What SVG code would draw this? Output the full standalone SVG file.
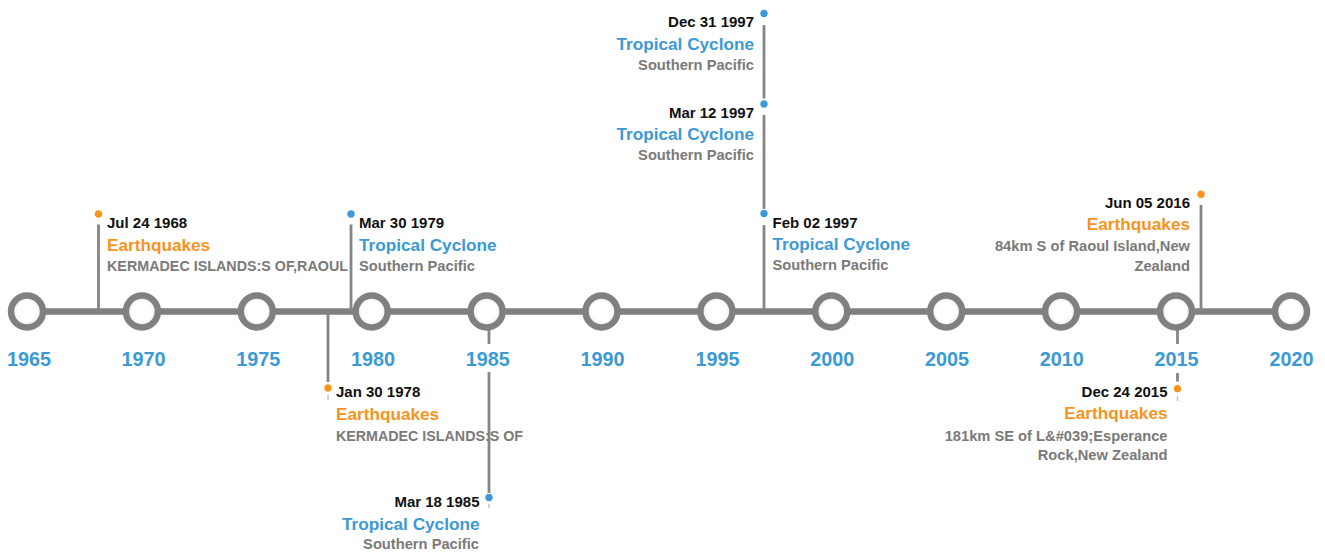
<svg xmlns="http://www.w3.org/2000/svg" width="1325" height="554" viewBox="0 0 1325 554">
<defs>
<radialGradient id="cg" cx="50%" cy="50%" r="50%">
<stop offset="0.6" stop-color="#ffffff"/>
<stop offset="1" stop-color="#e4e4e4"/>
</radialGradient>
<filter id="soft" x="-20%" y="-20%" width="140%" height="140%"><feGaussianBlur stdDeviation="0.6"/></filter>
</defs>
<style>
text{font-family:"Liberation Sans",Arial,Helvetica,sans-serif;font-weight:bold}
.axis{stroke:#808080;stroke-width:6.5;fill:none}
.ring{fill:url(#cg);stroke:#808080;stroke-width:6.5;filter:url(#soft)}
.yr{font-size:19.8px;fill:#3b9ad6;text-anchor:middle}
.stem{stroke:#858585;stroke-width:2.8;fill:none}
.stub{stroke:#c4c4c4;stroke-width:1.5;fill:none}
.date{font-size:15px;fill:#111111}
.teq{font-size:17.2px;fill:#f7941e}
.ttc{font-size:17.2px;fill:#3b9ad6}
.desc{font-size:14.7px;fill:#7a7a7a}
.end{text-anchor:end}
.deq{fill:#f7941e;stroke:#ffffff;stroke-width:1}
.dtc{fill:#3b9ad6;stroke:#ffffff;stroke-width:1}
</style>

<line class="axis" x1="27" y1="311.5" x2="1291" y2="311.5"/>

<g id="connectors">
<line class="stem" x1="98.5" y1="224.5" x2="98.5" y2="311"/>
<line class="stem" x1="351" y1="224.5" x2="351" y2="311"/>
<line class="stem" x1="328" y1="311" x2="328" y2="382"/>
<line class="stub" x1="328" y1="395" x2="328" y2="400"/>
<line class="stem" x1="489" y1="311" x2="489" y2="344"/>
<line class="stem" x1="489" y1="372" x2="489" y2="493"/>
<line class="stub" x1="489" y1="504" x2="489" y2="508"/>
<line class="stem" x1="764" y1="225" x2="764" y2="311"/>
<line class="stem" x1="764" y1="115" x2="764" y2="209"/>
<line class="stem" x1="764" y1="25" x2="764" y2="98.5"/>
<line class="stem" x1="1201" y1="205" x2="1201" y2="311"/>
<line class="stem" x1="1177.5" y1="311" x2="1177.5" y2="344"/>
<line class="stem" x1="1177.5" y1="373" x2="1177.5" y2="381.5"/>
<line class="stub" x1="1177.5" y1="396" x2="1177.5" y2="401"/>
</g>

<g id="y1965"><circle class="ring" cx="27" cy="311.5" r="16"/><text class="yr" x="29" y="366">1965</text></g>
<g id="y1970"><circle class="ring" cx="141.9" cy="311.5" r="16"/><text class="yr" x="143.4" y="366">1970</text></g>
<g id="y1975"><circle class="ring" cx="256.8" cy="311.5" r="16"/><text class="yr" x="258.3" y="366">1975</text></g>
<g id="y1980"><circle class="ring" cx="371.7" cy="311.5" r="16"/><text class="yr" x="373" y="366">1980</text></g>
<g id="y1985"><circle class="ring" cx="486.6" cy="311.5" r="16"/><text class="yr" x="487.8" y="366">1985</text></g>
<g id="y1990"><circle class="ring" cx="601.5" cy="311.5" r="16"/><text class="yr" x="602.6" y="366">1990</text></g>
<g id="y1995"><circle class="ring" cx="716.4" cy="311.5" r="16"/><text class="yr" x="717.4" y="366">1995</text></g>
<g id="y2000"><circle class="ring" cx="831.3" cy="311.5" r="16"/><text class="yr" x="832.2" y="366">2000</text></g>
<g id="y2005"><circle class="ring" cx="946.2" cy="311.5" r="16"/><text class="yr" x="947" y="366">2005</text></g>
<g id="y2010"><circle class="ring" cx="1061.1" cy="311.5" r="16"/><text class="yr" x="1061.8" y="366">2010</text></g>
<g id="y2015"><circle class="ring" cx="1176" cy="311.5" r="16"/><text class="yr" x="1176.6" y="366">2015</text></g>
<g id="y2020"><circle class="ring" cx="1291" cy="311.5" r="16"/><text class="yr" x="1291.4" y="366">2020</text></g>

<g id="ev-1968-07-24">
<circle class="deq" cx="98.5" cy="214" r="4.2"/>
<text class="date" x="107" y="228">Jul 24 1968</text>
<text class="teq" x="107" y="250.5">Earthquakes</text>
<text class="desc" x="107" y="270.5" textLength="241" lengthAdjust="spacingAndGlyphs">KERMADEC ISLANDS:S OF,RAOUL</text>
</g>

<g id="ev-1979-03-30">
<circle class="dtc" cx="351" cy="214" r="4.2"/>
<text class="date" x="359" y="228">Mar 30 1979</text>
<text class="ttc" x="359" y="250.5">Tropical Cyclone</text>
<text class="desc" x="359" y="270.5">Southern Pacific</text>
</g>

<g id="ev-1978-01-30">
<circle class="deq" cx="328" cy="388" r="4.2"/>
<text class="date" x="336" y="397">Jan 30 1978</text>
<text class="teq" x="336" y="419.5">Earthquakes</text>
<text class="desc" x="336" y="440.5" textLength="187" lengthAdjust="spacingAndGlyphs">KERMADEC ISLANDS:S OF</text>
</g>

<g id="ev-1985-03-18">
<circle class="dtc" cx="489" cy="497.5" r="4.2"/>
<text class="date end" x="479.5" y="506.7">Mar 18 1985</text>
<text class="ttc end" x="479.5" y="529.5">Tropical Cyclone</text>
<text class="desc end" x="479" y="549">Southern Pacific</text>
</g>

<g id="ev-1997-02-02">
<circle class="dtc" cx="764" cy="213.5" r="4.2"/>
<text class="date" x="772.5" y="228.3">Feb 02 1997</text>
<text class="ttc" x="772.5" y="250">Tropical Cyclone</text>
<text class="desc" x="772.5" y="270">Southern Pacific</text>
</g>

<g id="ev-1997-03-12">
<circle class="dtc" cx="764" cy="104" r="4.2"/>
<text class="date end" x="754" y="118.3">Mar 12 1997</text>
<text class="ttc end" x="754" y="140">Tropical Cyclone</text>
<text class="desc end" x="754" y="160">Southern Pacific</text>
</g>

<g id="ev-1997-12-31">
<circle class="dtc" cx="764" cy="13.5" r="4.2"/>
<text class="date end" x="754" y="27">Dec 31 1997</text>
<text class="ttc end" x="754" y="49.5">Tropical Cyclone</text>
<text class="desc end" x="754" y="69.5">Southern Pacific</text>
</g>

<g id="ev-2016-06-05">
<circle class="deq" cx="1201" cy="194.3" r="4.2"/>
<text class="date end" x="1190" y="207.7">Jun 05 2016</text>
<text class="teq end" x="1190" y="230">Earthquakes</text>
<text class="desc end" x="1190" y="250.7">84km S of Raoul Island,New</text>
<text class="desc end" x="1190" y="270.7">Zealand</text>
</g>

<g id="ev-2015-12-24">
<circle class="deq" cx="1177.5" cy="388.7" r="4.2"/>
<text class="date end" x="1167.5" y="396.7">Dec 24 2015</text>
<text class="teq end" x="1167.5" y="419.3">Earthquakes</text>
<text class="desc end" x="1167.5" y="440.7">181km SE of L&amp;#039;Esperance</text>
<text class="desc end" x="1167.5" y="460">Rock,New Zealand</text>
</g>
</svg>
